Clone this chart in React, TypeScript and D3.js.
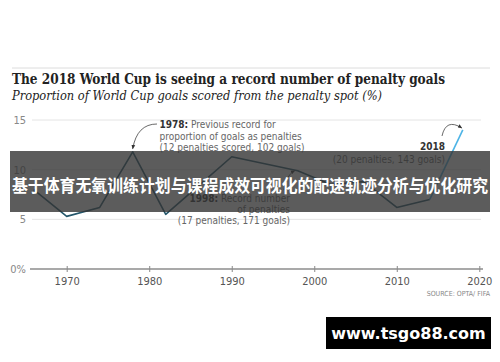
import React, { useEffect, useRef } from 'react'
import * as d3 from 'd3'

// World Cup years and share of goals scored from penalties (%)
const years = [1966, 1970, 1974, 1978, 1982, 1986, 1990, 1994, 1998, 2002, 2006, 2010, 2014, 2018]
const penaltyShare = [8.0, 5.3, 6.2, 11.8, 5.5, 8.4, 11.3, 10.6, 9.9, 8.5, 8.8, 6.2, 7.0, 14.0]
const yTicks = [0, 5, 10, 15]
const xTicks = [1970, 1980, 1990, 2000, 2010, 2020]

const title = 'The 2018 World Cup is seeing a record number of penalty goals'
const subtitle = 'Proportion of World Cup goals scored from the penalty spot (%)'
const note1978 = ['Previous record for', 'proportion of goals as penalties', '(12 penalties scored, 102 goals)']
const note1998 = ['Record number', 'of penalties', '(17 penalties, 171 goals)']
const note2018 = ['(20 penalties, 143 goals)']
const bannerText = '基于体育无氧训练计划与课程成效可视化的配速轨迹分析与优化研究'

const W = 500, H = 362
const sans = "'DejaVu Sans Condensed', 'DejaVu Sans', sans-serif"

function draw(svgEl: SVGSVGElement) {
  const svg = d3.select(svgEl)
  svg.selectAll('*').remove()

  const x = d3.scaleLinear().domain([1970, 2020]).range([66.7, 479.3])
  const y = d3.scaleLinear().domain([0, 15]).range([269, 120])

  svg.append('rect').attr('width', W).attr('height', H).attr('fill', '#fff')

  // header
  svg.append('line').attr('x1', 12).attr('x2', 490).attr('y1', 68).attr('y2', 68)
    .attr('stroke', '#dcdcdc').attr('stroke-width', 1)
  svg.append('text').attr('x', 12).attr('y', 84)
    .attr('font-family', "'DejaVu Serif', serif").attr('font-weight', 'bold')
    .attr('font-size', 14.5).attr('fill', '#222')
    .attr('textLength', 433).attr('lengthAdjust', 'spacingAndGlyphs')
    .text(title)
  svg.append('text').attr('x', 12).attr('y', 100)
    .attr('font-family', "'DejaVu Serif', serif").attr('font-style', 'italic')
    .attr('font-size', 12).attr('fill', '#222')
    .attr('textLength', 370).attr('lengthAdjust', 'spacingAndGlyphs')
    .text(subtitle)

  // grid + y labels
  const g = svg.append('g')
  g.selectAll('.grid').data(yTicks.filter(d => d > 0)).enter().append('line')
    .attr('x1', 32).attr('x2', 481)
    .attr('y1', d => y(d)).attr('y2', d => y(d))
    .attr('stroke', '#e4e4e4').attr('stroke-width', 1)
  g.selectAll('.ylab').data(yTicks).enter().append('text')
    .attr('x', 26).attr('y', d => y(d)).attr('dy', '0.35em')
    .attr('text-anchor', 'end').attr('font-family', sans).attr('font-size', 11)
    .attr('fill', '#888')
    .text(d => d === 0 ? '0%' : String(d))

  // x axis
  const xAxis = g.append('g').attr('transform', `translate(0,${y(0)})`)
    .call(d3.axisBottom(x).tickValues(xTicks).tickFormat(d3.format('d')).tickSize(3))
  xAxis.select('.domain').remove()
  xAxis.selectAll('line').attr('stroke', '#888').attr('y1', -3).attr('y2', 3)
  xAxis.selectAll('text').attr('font-family', sans).attr('font-size', 11)
    .attr('fill', '#555').attr('dy', '0.95em')
  g.append('line').attr('x1', 30).attr('x2', 483).attr('y1', y(0)).attr('y2', y(0))
    .attr('stroke', '#8c8c8c').attr('stroke-width', 1.5)

  // line
  const pts = years.map((yr, i) => [yr, penaltyShare[i]] as [number, number])
  const line = d3.line<[number, number]>().x(d => x(d[0])).y(d => y(d[1]))
  svg.append('path').datum(pts.slice(0, -1)).attr('d', line)
    .attr('fill', 'none').attr('stroke', '#24566a').attr('stroke-width', 1.6)
    .attr('stroke-linejoin', 'round')
  svg.append('path').datum(pts.slice(-2)).attr('d', line)
    .attr('fill', 'none').attr('stroke', '#4db4e6').attr('stroke-width', 1.6)

  // arrows
  const defs = svg.append('defs')
  defs.append('marker').attr('id', 'ah').attr('viewBox', '0 0 10 10')
    .attr('refX', 8).attr('refY', 5).attr('markerWidth', 6).attr('markerHeight', 6)
    .attr('orient', 'auto')
    .append('path').attr('d', 'M0,1 L9,5 L0,9 Z').attr('fill', '#333')

  const p78 = [x(1978), y(11.8)], p98 = [x(1998), y(9.9)], p18 = [x(2018), y(14.0)]
  svg.append('path')
    .attr('d', `M157,124 Q137,124 ${p78[0]},${p78[1] - 3}`)
    .attr('fill', 'none').attr('stroke', '#444').attr('stroke-width', 0.8).attr('marker-end', 'url(#ah)')
  svg.append('path')
    .attr('d', `M284,190 Q286,175 ${p98[0] - 3},${p98[1]}`)
    .attr('fill', 'none').attr('stroke', '#444').attr('stroke-width', 0.8).attr('marker-end', 'url(#ah)')
  svg.append('path')
    .attr('d', `M442,136 Q446,118 ${p18[0] - 1},${p18[1] - 2}`)
    .attr('fill', 'none').attr('stroke', '#444').attr('stroke-width', 0.8).attr('marker-end', 'url(#ah)')

  // annotations
  const note = (xx: number, yy: number, anchor: string, year: string | null, txt: string) => {
    const t = svg.append('text').attr('x', xx).attr('y', yy).attr('text-anchor', anchor)
      .attr('font-family', sans).attr('font-size', 10).attr('fill', '#666')
    if (year) t.append('tspan').attr('font-weight', 'bold').attr('fill', '#333').text(year)
    if (txt) t.append('tspan').text(txt)
  }
  note(159.5, 128, 'start', '1978:', ' ' + note1978[0])
  note(159.5, 139.7, 'start', null, note1978[1])
  note(159.5, 151.4, 'start', null, note1978[2])
  note(290, 202, 'end', '1998:', ' ' + note1998[0])
  note(290, 213, 'end', null, note1998[1])
  note(290, 224, 'end', null, note1998[2])
  note(445, 150, 'end', '2018', '')
  note(445, 163, 'end', null, note2018[0])

  svg.append('text').attr('x', 490).attr('y', 296).attr('text-anchor', 'end')
    .attr('font-family', sans).attr('font-size', 7).attr('fill', '#888')
    .text('SOURCE: OPTA/ FIFA')

  // overlay banner
  svg.append('rect').attr('x', 10).attr('y', 151).attr('width', 480).attr('height', 61)
    .attr('fill', '#333').attr('opacity', 0.8)
  svg.append('text').attr('x', 12).attr('y', 192)
    .attr('font-family', "'Noto Sans CJK SC', sans-serif").attr('font-weight', 'bold')
    .attr('font-size', 17).attr('fill', '#fff')
    .attr('textLength', 476).attr('lengthAdjust', 'spacingAndGlyphs')
    .text(bannerText)

  // watermark
  svg.append('rect').attr('x', 326).attr('y', 317).attr('width', 165).attr('height', 32).attr('fill', '#000')
  svg.append('text').attr('x', 408.5).attr('y', 339).attr('text-anchor', 'middle')
    .attr('font-family', "'DejaVu Sans', sans-serif").attr('font-weight', 'bold')
    .attr('font-size', 16).attr('fill', '#fff')
    .text('www.tsgo88.com')
}

export default function App() {
  const ref = useRef<SVGSVGElement>(null)
  useEffect(() => {
    if (ref.current) draw(ref.current)
  }, [])
  return (
    <svg ref={ref} width={W} height={H}
      style={{ position: 'absolute', left: 0, top: 0, display: 'block' }} />
  )
}
